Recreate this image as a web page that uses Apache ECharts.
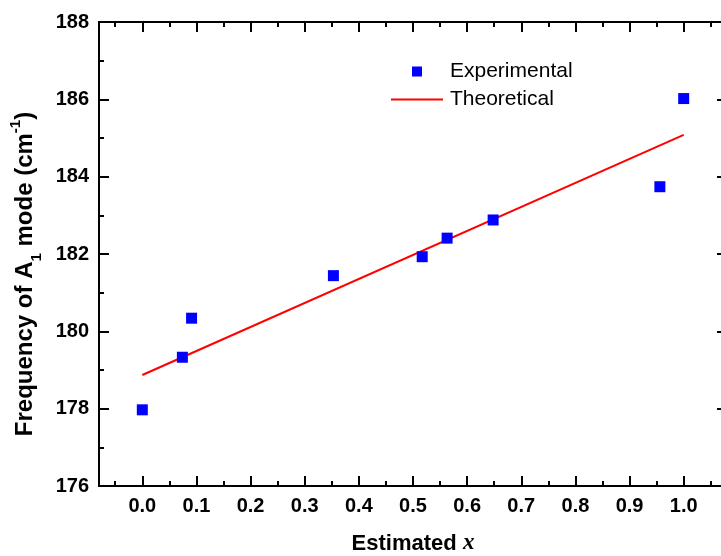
<!DOCTYPE html>
<html>
<head>
<meta charset="utf-8">
<script src="https://cdn.jsdelivr.net/npm/echarts@6/dist/echarts.min.js"></script>
<style>html,body{margin:0;padding:0;background:#fff;}#c{width:721px;height:556px;}</style>
</head>
<body>
<div id="c"></div>
<script>
// Data
const expX = [0.0, 0.074, 0.091, 0.353, 0.517, 0.563, 0.648, 0.956, 1.0];
const expY = [177.97, 179.33, 180.34, 181.44, 181.93, 182.41, 182.88, 183.74, 186.02];
const theoX = [0.0, 1.0];
const theoY = [178.87, 185.08];
const xMajorTicks = [0.0, 0.1, 0.2, 0.3, 0.4, 0.5, 0.6, 0.7, 0.8, 0.9, 1.0];
const xMinorTicks = [-0.05, 0.05, 0.15, 0.25, 0.35, 0.45, 0.55, 0.65, 0.75, 0.85, 0.95, 1.05];
const yTickLabels = [176, 178, 180, 182, 184, 186, 188];
const seriesNames = ['Experimental', 'Theoretical'];

const FONT = '"Liberation Sans", Arial, Helvetica, sans-serif';
const chart = echarts.init(document.getElementById('c'), null, {renderer: 'canvas'});

const baseX = {
  type: 'value', min: -0.08, max: 1.08,
  splitLine: {show: false},
  axisLine: {show: true, onZero: false, lineStyle: {color: '#000', width: 2}}
};
function xAxisDef(pos, major, showLabel, extra) {
  return Object.assign({}, baseX, {
    position: pos,
    axisTick: {show: true, inside: true, length: major ? 10 : 5, lineStyle: {color: '#000', width: 2},
               customValues: major ? xMajorTicks : xMinorTicks},
    axisLabel: showLabel ? {show: true, customValues: xMajorTicks, color: '#000', fontSize: 20, fontWeight: 'bold', fontFamily: FONT, margin: 10,
               formatter: v => v.toFixed(1)} : {show: false}
  }, extra || {});
}

const option = {
  animation: false,
  backgroundColor: '#fff',
  grid: {left: 99, right: -6, top: 22, bottom: 70, containLabel: false, outerBoundsMode: 'none'},
  xAxis: [
    xAxisDef('bottom', true, true, {
      name: 'Estimated {it|x}', nameLocation: 'middle', nameGap: 46,
      nameTextStyle: {color: '#000', fontSize: 22, fontWeight: 'bold', fontFamily: FONT,
        rich: {it: {fontStyle: 'italic', fontWeight: 'bold', fontSize: 23, fontFamily: '"Liberation Serif", "Times New Roman", serif', color: '#000'}}}
    }),
    xAxisDef('bottom', false, false),
    xAxisDef('top', true, false),
    xAxisDef('top', false, false)
  ],
  yAxis: [
    {
      type: 'value', min: 176, max: 188, interval: 2, position: 'left',
      splitLine: {show: false},
      axisLine: {show: true, onZero: false, lineStyle: {color: '#000', width: 2}},
      axisTick: {show: true, inside: true, length: 10, lineStyle: {color: '#000', width: 2}},
      minorTick: {show: true, splitNumber: 2, length: 5, lineStyle: {color: '#000', width: 2}},
      axisLabel: {color: '#000', fontSize: 20, fontWeight: 'bold', fontFamily: FONT, margin: 10,
                  formatter: v => yTickLabels.includes(v) ? String(v) : ''},
      name: 'Frequency of A{sub|1} mode (cm{sup|-1})', nameLocation: 'middle', nameGap: 62,
      nameTextStyle: {color: '#000', fontSize: 24, fontWeight: 'bold', fontFamily: FONT, padding: [0, 40, 0, 0],
        rich: {
          sub: {fontSize: 15, fontWeight: 'bold', fontFamily: FONT, color: '#000', verticalAlign: 'bottom', lineHeight: 15, padding: [0, 0, -7, 0]},
          sup: {fontSize: 15, fontWeight: 'bold', fontFamily: FONT, color: '#000', verticalAlign: 'top', lineHeight: 15, padding: [-5, 0, 0, 0]}
        }}
    },
    {
      type: 'value', min: 176, max: 188, interval: 2, position: 'right',
      splitLine: {show: false},
      axisLine: {show: true, onZero: false, lineStyle: {color: '#000', width: 2}},
      axisTick: {show: true, inside: true, length: 10, lineStyle: {color: '#000', width: 2}},
      minorTick: {show: true, splitNumber: 2, length: 5, lineStyle: {color: '#000', width: 2}},
      axisLabel: {show: false}
    }
  ],
  legend: {
    orient: 'vertical', left: 391, top: 61, padding: 0,
    itemWidth: 52, itemHeight: 10, itemGap: 7,
    symbolKeepAspect: true,
    textStyle: {color: '#000', fontSize: 21, fontFamily: FONT, lineHeight: 20, padding: [0, 0, 0, 2]},
    data: [
      {name: seriesNames[0], icon: 'path://M0,0h10v10h-10z'},
      {name: seriesNames[1], icon: 'path://M0,0h52v2h-52z'}
    ]
  },
  series: [
    {
      name: seriesNames[1], type: 'line', xAxisIndex: 0, yAxisIndex: 0,
      data: theoX.map((x, i) => [x, theoY[i]]),
      symbol: 'none', lineStyle: {color: '#ff0000', width: 2}, itemStyle: {color: '#ff0000'}, z: 2
    },
    {
      name: seriesNames[0], type: 'scatter', xAxisIndex: 0, yAxisIndex: 0,
      data: expX.map((x, i) => [x, expY[i]]),
      symbol: 'rect', symbolSize: 11, itemStyle: {color: '#0000ff', opacity: 1}, z: 3
    }
  ]
};
chart.setOption(option);
</script>
</body>
</html>
